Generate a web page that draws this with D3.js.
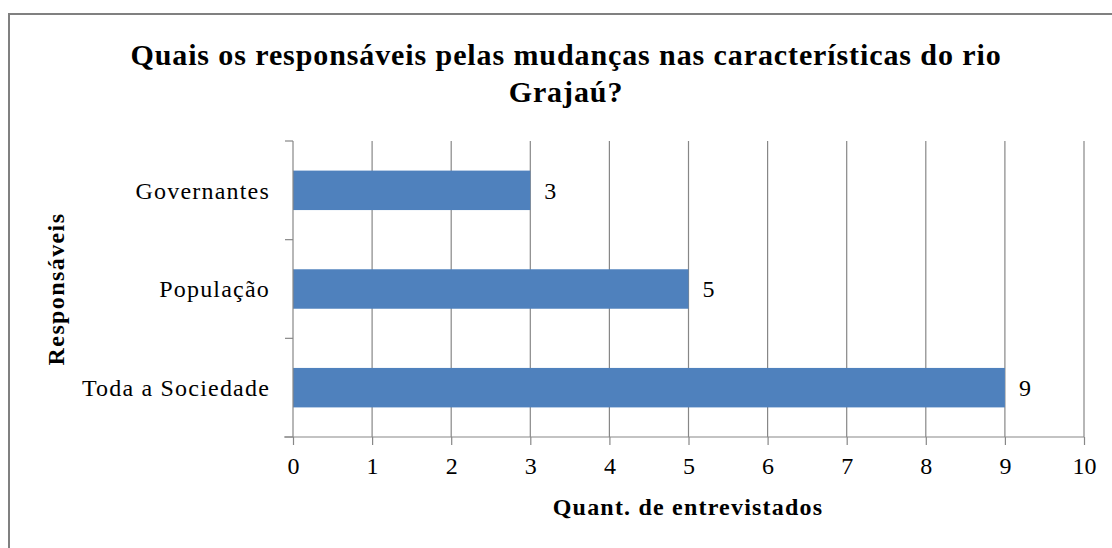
<!DOCTYPE html>
<html>
  <head>
    <meta charset="utf-8">
    <script src="https://d3js.org/d3.v7.min.js"></script>
    <style>
      body { margin: 0px; background: #fff; }
      text { font-family: 'Liberation Serif', serif; fill: #000; }
      .tick-label { font-size: 24px; }
      .cat-label { font-size: 24px; letter-spacing: 1.2px; }
      .axis-label { font-size: 24px; font-weight: bold; letter-spacing: 1.2px; }
      .y-label { letter-spacing: 1.4px; }
      .title { font-size: 30px; font-weight: bold; letter-spacing: 0.9px; }
    </style>
  </head>
  <body>
    <svg width="1112" height="548"></svg>
    <script>
      const categories = ['Governantes', 'População', 'Toda a Sociedade'];
      const values = [3, 5, 9];
      const xTicks = [0, 1, 2, 3, 4, 5, 6, 7, 8, 9, 10];
      const titleLines = ['Quais os responsáveis pelas mudanças nas características do rio', 'Grajaú?'];
      const xLabel = 'Quant. de entrevistados';
      const yLabel = 'Responsáveis';

      const svg = d3.select('svg');
      const gridColor = '#878787';
      const barColor = '#4F81BD';

      // outer frame (runs off right and bottom edges)
      svg.append('rect')
        .attr('x', 9).attr('y', 14)
        .attr('width', 1200).attr('height', 600)
        .attr('fill', 'none')
        .attr('stroke', '#808080')
        .attr('stroke-width', 2);

      const xScale = d3.scaleLinear().domain([0, 10]).range([293, 1084]);
      const yScale = d3.scaleBand().domain(categories).range([141, 437])
        .paddingInner(0.6).paddingOuter(0.3);
      const y0 = 141, y1 = 437;

      // vertical gridlines
      svg.append('g').selectAll('line').data(xTicks.slice(1)).enter()
        .append('line')
          .attr('x1', d => xScale(d)).attr('x2', d => xScale(d))
          .attr('y1', y0).attr('y2', y1)
          .attr('stroke', gridColor).attr('stroke-width', 1.2);

      // bars
      svg.append('g').selectAll('rect').data(categories).enter()
        .append('rect')
          .attr('x', xScale(0))
          .attr('y', d => yScale(d))
          .attr('width', (d, i) => xScale(values[i]) - xScale(0))
          .attr('height', yScale.bandwidth())
          .attr('fill', barColor);

      // value labels
      svg.append('g').selectAll('text').data(categories).enter()
        .append('text')
          .attr('class', 'tick-label')
          .attr('x', (d, i) => xScale(values[i]) + 14)
          .attr('y', d => yScale(d) + yScale.bandwidth() / 2)
          .attr('dy', '0.35em')
          .text((d, i) => values[i]);

      // x axis
      const xAxis = d3.axisBottom(xScale).tickValues(xTicks).tickSize(8).tickSizeOuter(0).tickPadding(12);
      const xAxisG = svg.append('g').attr('transform', `translate(0,${y1})`).call(xAxis);
      xAxisG.select('.domain').remove();
      xAxisG.append('line').attr('x1', 284).attr('x2', xScale(10)).attr('y1', 0).attr('y2', 0)
        .attr('stroke', gridColor).attr('stroke-width', 1.2);
      xAxisG.selectAll('.tick line').attr('stroke', gridColor).attr('stroke-width', 1.2);
      xAxisG.attr('font-size', null).attr('font-family', null);
      xAxisG.selectAll('.tick text').attr('class', 'tick-label');

      // y axis
      const yBounds = d3.range(categories.length + 1).map(i => y0 + i * (y1 - y0) / categories.length);
      const yAxisG = svg.append('g');
      yAxisG.append('line').attr('x1', xScale(0)).attr('x2', xScale(0)).attr('y1', y0).attr('y2', y1)
        .attr('stroke', gridColor).attr('stroke-width', 1.2);
      yAxisG.selectAll('.ytick').data(yBounds).enter()
        .append('line')
          .attr('x1', xScale(0) - 8).attr('x2', xScale(0))
          .attr('y1', d => d).attr('y2', d => d)
          .attr('stroke', gridColor).attr('stroke-width', 1.2);
      yAxisG.selectAll('.cat-label').data(categories).enter()
        .append('text')
          .attr('class', 'cat-label')
          .attr('x', 270)
          .attr('y', d => yScale(d) + yScale.bandwidth() / 2)
          .attr('dy', '0.35em')
          .attr('text-anchor', 'end')
          .text(d => d);

      // titles
      svg.selectAll('.title').data(titleLines).enter()
        .append('text')
          .attr('class', 'title')
          .attr('x', 566)
          .attr('y', (d, i) => 65 + i * 37)
          .attr('text-anchor', 'middle')
          .text(d => d);

      svg.append('text')
        .attr('class', 'axis-label')
        .attr('x', 688).attr('y', 515)
        .attr('text-anchor', 'middle')
        .text(xLabel);

      svg.append('text')
        .attr('class', 'axis-label y-label')
        .attr('transform', 'translate(64,289) rotate(-90)')
        .attr('text-anchor', 'middle')
        .text(yLabel);
    </script>
  </body>
</html>
